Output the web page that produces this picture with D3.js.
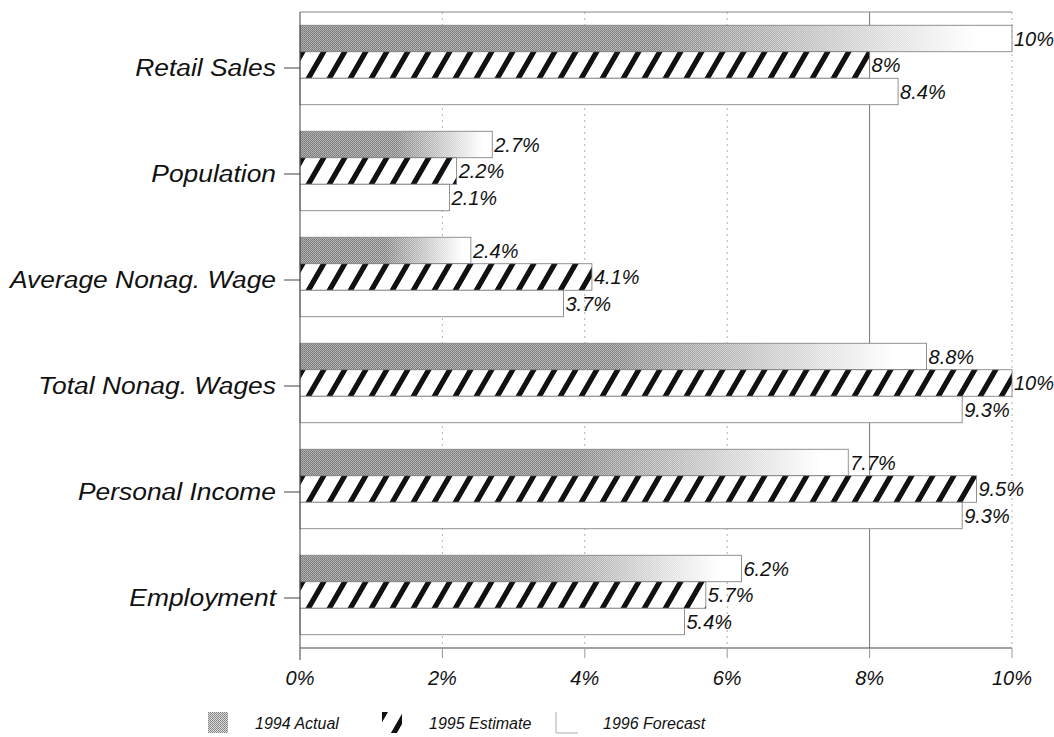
<!DOCTYPE html>
<html><head><meta charset="utf-8">
<script src="https://cdn.jsdelivr.net/npm/d3@7"></script>
<style>
html,body{margin:0;padding:0;background:#fff;}
svg{display:block;font-family:"Liberation Sans",Arial,sans-serif;font-style:italic;}
</style></head>
<body>
<svg id="chart" width="1054" height="737"></svg>
<script>
const categories = ["Retail Sales","Population","Average Nonag. Wage","Total Nonag. Wages","Personal Income","Employment"];
const seriesNames = ["1994 Actual","1995 Estimate","1996 Forecast"];
const actual1994 = [10, 2.7, 2.4, 8.8, 7.7, 6.2];
const estimate1995 = [8, 2.2, 4.1, 10, 9.5, 5.7];
const forecast1996 = [8.4, 2.1, 3.7, 9.3, 9.3, 5.4];
const tickValues = [0, 2, 4, 6, 8, 10];
const tickLabels = ["0%","2%","4%","6%","8%","10%"];

const series = [actual1994, estimate1995, forecast1996];

const svg = d3.select("#chart");
const L = 300, R = 1012, T = 12, B = 648;

const x = d3.scaleLinear().domain([0, 10]).range([L, R]);
const y = d3.scaleBand().domain(categories).range([T, B]).paddingInner(0.25).paddingOuter(0.125);
const ys = d3.scaleBand().domain(d3.range(series.length)).range([0, y.bandwidth()]);

// defs
const defs = svg.append("defs");
const st = defs.append("pattern").attr("id","stipple").attr("patternUnits","userSpaceOnUse")
  .attr("width",2).attr("height",2);
st.append("rect").attr("width",2).attr("height",2).attr("fill","#d0d0d0");
st.append("rect").attr("x",0).attr("y",0).attr("width",1).attr("height",1).attr("fill","#555");
st.append("rect").attr("x",1).attr("y",1).attr("width",1).attr("height",1).attr("fill","#666");

const fg = defs.append("linearGradient").attr("id","fadeGrad").attr("x1",0).attr("x2",1).attr("y1",0).attr("y2",0);
fg.append("stop").attr("offset","0").attr("stop-color","#fff");
fg.append("stop").attr("offset","0.5").attr("stop-color","#eee");
fg.append("stop").attr("offset","0.95").attr("stop-color","#000");
const mask = defs.append("mask").attr("id","fade").attr("maskContentUnits","objectBoundingBox");
mask.append("rect").attr("width",1).attr("height",1).attr("fill","url(#fadeGrad)");

const hatch = defs.append("pattern").attr("id","hatch").attr("patternUnits","userSpaceOnUse")
  .attr("width",21).attr("height",400).attr("patternTransform","skewX(-30)");
hatch.append("rect").attr("x",0).attr("y",0).attr("width",6).attr("height",400).attr("fill","#111");

// gridlines
svg.append("g").selectAll("line").data(tickValues.slice(1)).join("line")
  .attr("x1", d => x(d)).attr("x2", d => x(d)).attr("y1", T).attr("y2", B)
  .attr("stroke", d => d === 8 ? "#777" : "#b0b0b0")
  .attr("stroke-width", 1)
  .attr("stroke-dasharray", d => d === 8 ? null : "2,4");

// top border
svg.append("line").attr("x1",L).attr("x2",R).attr("y1",T).attr("y2",T).attr("stroke","#888").attr("stroke-width",1);

// bars
const groups = svg.append("g").selectAll("g").data(categories).join("g")
  .attr("transform", d => `translate(0,${y(d)})`);

groups.each(function(cat, ci){
  const g = d3.select(this);
  series.forEach((s, si) => {
    const v = s[ci];
    const bx = x(0), bw = x(v) - x(0), by = ys(si), bh = ys.bandwidth();
    g.append("rect").attr("x",bx).attr("y",by).attr("width",bw).attr("height",bh)
      .attr("fill","#fff");
    if (si === 0) {
      g.append("rect").attr("x",bx).attr("y",by).attr("width",bw).attr("height",bh)
        .attr("fill","url(#stipple)").attr("mask","url(#fade)");
    } else if (si === 1) {
      g.append("rect").attr("x",bx).attr("y",by).attr("width",bw).attr("height",bh)
        .attr("fill","url(#hatch)");
    }
    g.append("rect").attr("x",bx).attr("y",by).attr("width",bw).attr("height",bh)
      .attr("fill","none").attr("stroke","#777").attr("stroke-width",0.8);
    g.append("text").attr("x", x(v) + 2).attr("y", by + bh/2 + 7)
      .attr("font-size","20px").attr("fill","#111").text(v + "%");
  });
});

// left axis
svg.append("line").attr("x1",L).attr("x2",L).attr("y1",T).attr("y2",B+12).attr("stroke","#444").attr("stroke-width",1);
svg.append("g").selectAll("line").data(categories).join("line")
  .attr("x1",L-16).attr("x2",L).attr("y1",d => y(d)+y.bandwidth()/2+3).attr("y2",d => y(d)+y.bandwidth()/2+3)
  .attr("stroke","#444");
svg.append("g").selectAll("text").data(categories).join("text")
  .attr("transform", d => `translate(${L-24},${y(d)+y.bandwidth()/2+11}) scale(1.1,1)`)
  .attr("text-anchor","end").attr("font-size","24px").attr("fill","#111").text(d => d);

// bottom axis
svg.append("line").attr("x1",L).attr("x2",R).attr("y1",B).attr("y2",B).attr("stroke","#444");
svg.append("g").selectAll("line").data(tickValues).join("line")
  .attr("x1",d=>x(d)).attr("x2",d=>x(d)).attr("y1",B).attr("y2",B+10).attr("stroke","#999");
svg.append("g").selectAll("text").data(tickValues).join("text")
  .attr("x",d=>x(d)).attr("y",B+37).attr("text-anchor","middle")
  .attr("font-size","20px").attr("fill","#111").text((d,i)=>tickLabels[i]);

// legend
const lg = svg.append("g").selectAll("g").data(seriesNames).join("g")
  .attr("transform",(d,i)=>`translate(${208 + i*174},712)`);
lg.each(function(name, i){
  const g = d3.select(this);
  if (i === 0) {
    g.append("rect").attr("width",20).attr("height",21).attr("fill","url(#stipple)").attr("opacity",0.75);
  } else if (i === 1) {
    g.append("rect").attr("width",20).attr("height",21).attr("fill","url(#hatch)");
  } else {
    g.append("line").attr("x1",0).attr("x2",0).attr("y1",0).attr("y2",21).attr("stroke","#aaa");
    g.append("line").attr("x1",0).attr("x2",22).attr("y1",21).attr("y2",21).attr("stroke","#aaa");
  }
  g.append("text").attr("x",47).attr("y",17).attr("font-size","16px").attr("fill","#111").text(name);
});
</script>
</body></html>
